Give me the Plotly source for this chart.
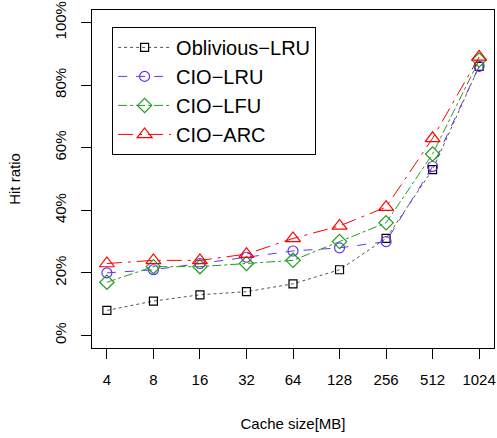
import plotly.graph_objects as go

# cache sizes in MB
cache_sizes = ["4", "8", "16", "32", "64", "128", "256", "512", "1024"]

# hit ratios (fraction)
oblivious_lru = [0.08, 0.11, 0.13, 0.14, 0.165, 0.21, 0.31, 0.53, 0.86]
cio_lru = [0.20, 0.21, 0.23, 0.25, 0.27, 0.28, 0.30, 0.54, 0.86]
cio_lfu = [0.17, 0.22, 0.22, 0.23, 0.24, 0.30, 0.36, 0.58, 0.88]
cio_arc = [0.23, 0.24, 0.24, 0.26, 0.31, 0.35, 0.41, 0.63, 0.89]

y_ticks = [0, 0.2, 0.4, 0.6, 0.8, 1.0]

series = [
    ("Oblivious\u2212LRU", oblivious_lru, "#555555", "black", "dot", "square-open", 8),
    ("CIO\u2212LRU", cio_lru, "#6633EE", "#6633EE", "dash", "circle-open", 10),
    ("CIO\u2212LFU", cio_lfu, "#1E9E1E", "#1E9E1E", "dashdot", "diamond-open", 11),
    ("CIO\u2212ARC", cio_arc, "#FF0000", "#FF0000", "longdashdot", "triangle-up-open", 13),
]

fig = go.Figure()
for name, vals, lcol, mcol, dash, sym, size in series:
    fig.add_trace(go.Scatter(
        x=cache_sizes, y=vals, name=name, mode="lines+markers",
        line=dict(color=lcol, width=1, dash=dash),
        marker=dict(symbol=sym, size=size, color=mcol, line=dict(width=1.2, color=mcol)),
    ))

axis_common = dict(
    showline=True, linecolor="black", linewidth=1.2, mirror=True,
    ticks="outside", ticklen=10, tickcolor="black", tickwidth=1,
    showgrid=False, zeroline=False, automargin=False,
    tickfont=dict(size=15, color="black"),
)

fig.update_layout(
    width=497, height=438,
    margin=dict(l=92, r=3, t=10, b=90),
    paper_bgcolor="white", plot_bgcolor="white",
    font=dict(family="Liberation Sans, Arial, sans-serif", color="black"),
    xaxis=dict(
        type="category", range=[-0.32, 8.32],
        title=dict(text="Cache size[MB]", font=dict(size=15), standoff=31),
        ticklabelstandoff=8,
        **axis_common,
    ),
    yaxis=dict(
        range=[-0.04, 1.04], tickvals=y_ticks, tickformat=".0%",
        tickangle=-90,
        title=dict(text="Hit ratio", font=dict(size=15), standoff=27),
        ticklabelstandoff=9,
        **axis_common,
    ),
    legend=dict(
        x=0.05, y=0.95, xanchor="left", yanchor="top",
        bordercolor="black", borderwidth=1, bgcolor="white",
        font=dict(size=20), itemwidth=53,
        tracegroupgap=0,
    ),
)

# drop the browser's default body margin so the figure sits at the page corner
fig.write_html("out.html", config={"displayModeBar": False},
               post_script="document.body.style.margin='0';")
